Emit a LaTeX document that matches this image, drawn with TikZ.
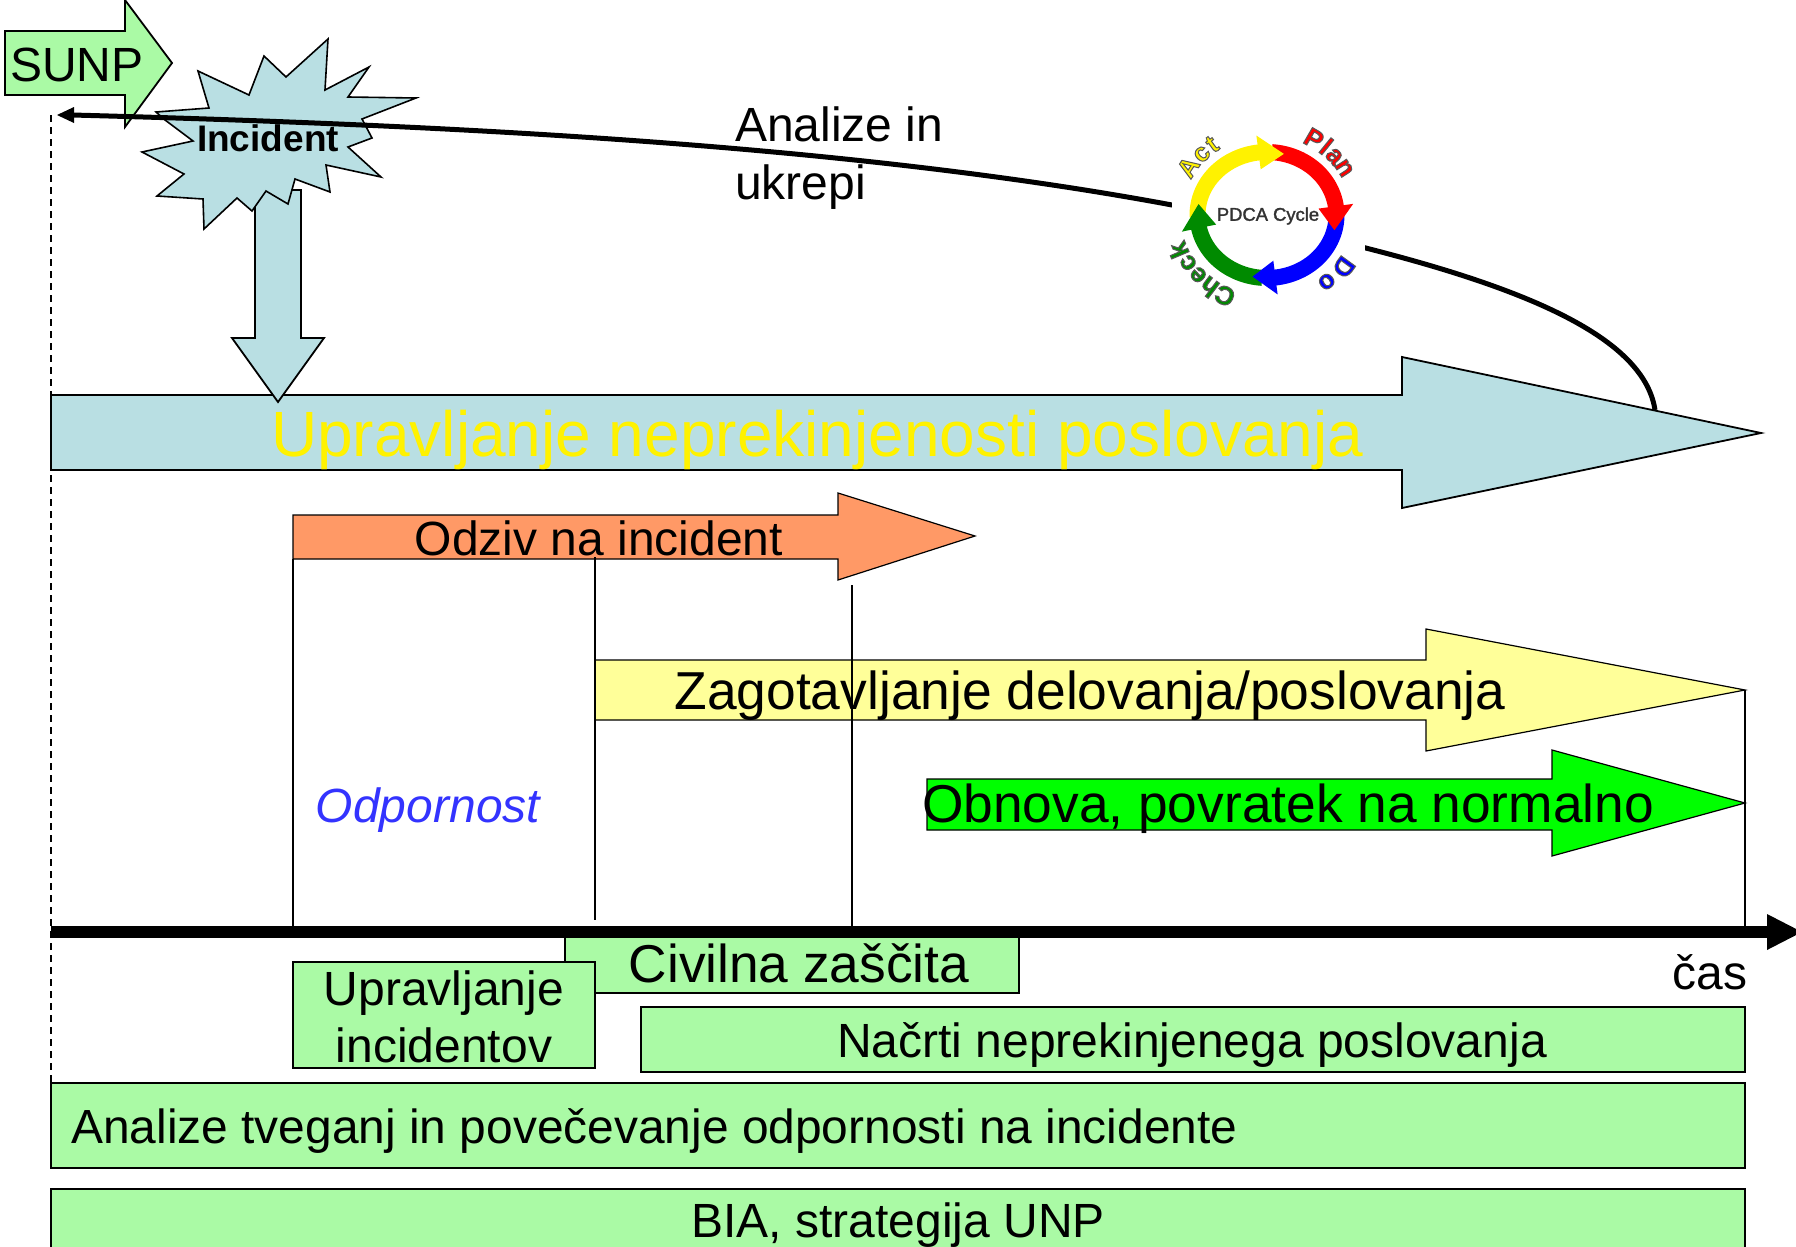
\documentclass[tikz,border=0pt]{standalone}
\usepackage{fontspec}
\setmainfont{Liberation Sans}
\definecolor{bluefill}{HTML}{B9DFE3}
\definecolor{greenfill}{HTML}{AAFAA5}
\definecolor{orangefill}{HTML}{FF9966}
\definecolor{yellowfill}{HTML}{FFFF99}
\definecolor{pdcagreen}{HTML}{008A00}
\tikzset{
  x=1pt,y=-1pt,
  shapeline/.style={draw=black,line width=1.8pt,line join=miter},
  bluearrow/.style={shapeline,fill=bluefill},
  greenbox/.style={shapeline,fill=greenfill},
  tick/.style={draw=black,line width=1.5pt},
  label/.style={inner sep=0pt,text=black,align=center},
}
\newcommand\fsz[1]{\fontsize{#1}{#1}\selectfont}
\newcommand\pdcashaft[3]{\draw[#1,line width=16pt,domain=#2:#3,samples=30,smooth] plot ({1267+69.5*cos(\x)},{215-63*sin(\x)});}
\newcommand\pdcahead[3]{\fill[#1] ({1267+87*cos(#2)},{215-80*sin(#2)}) -- ({1267+69.5*cos(#3)},{215-63*sin(#3)}) -- ({1267+52*cos(#2)},{215-46*sin(#2)}) -- cycle;}
\newcommand\pdcaword[1]{\special{pdf:code q 2 Tr 1 w 0.35 0.35 0.35 RG}#1\special{pdf:code Q}}
\newcommand\pdcaletter[5]{%
  \node[inner sep=0pt,anchor=base,text=#3,rotate=#2-90,font=\bfseries\fsz{26}] (letter#5) at ({1267+#4*cos(#2)},{215-#4*0.93*sin(#2)}) {\pdcaword{#1}};}
\begin{document}
\begin{tikzpicture}
\useasboundingbox (0,0) rectangle (1796,1247);
\clip (0,0) rectangle (1796,1247);
% left dashed time origin
\coordinate (dashtop) at (51,115);
\coordinate (dashbot) at (51,1083);
\draw[black,line width=1.5pt,dash pattern=on 7pt off 5pt] (dashtop) -- (dashbot);
% SUNP
\draw[shapeline,fill=greenfill] (5,31) -- (125,31) -- (125,0) -- (172,63) -- (125,127) -- (125,95) -- (5,95) -- cycle;
\node[label,font=\fsz{48}] (sunp) at (77,65) {SUNP};
% Big arrow
\draw[bluearrow] (51,395) -- (1402,395) -- (1402,357) -- (1761,433) -- (1402,508) -- (1402,470) -- (51,470) -- cycle;
% Down arrow
\draw[bluearrow] (255,190) -- (301,190) -- (301,338) -- (324,338) -- (278,402) -- (232,338) -- (255,338) -- cycle;
\node[label,anchor=west,text=yellow,font=\fsz{64}] (ubp) at (271,440) {Upravljanje neprekinjenosti poslovanja};
% Burst
\draw[bluearrow,line width=1.6pt] (198,71) -- (249,95) -- (264,56) -- (286,77) -- (328,39) -- (325,90) -- (369,67) -- (348,97) -- (416,98) -- (362,119) -- (372,138) -- (348,147) -- (381,177) -- (326,165) -- (330,192) -- (295,179) -- (288,204) -- (266,191) -- (252,211) -- (237,198) -- (204,229) -- (203,199) -- (157,196) -- (184,174) -- (142,152) -- (193,141) -- (165,120) -- (156,112) -- (209,108) -- cycle;
\node[label,font=\bfseries\fsz{37}] (incident) at (268,138) {Incident};
% feedback curve
\coordinate (curveend) at (57,115);
\coordinate (curvestart) at (1655,410);
\draw[black,line width=5pt] (curvestart) .. controls (1640,310) and (1420,255) .. (1172,205) .. controls (850,145) and (450,125) .. (72,115);
\fill[black] (curveend) -- (74,107) -- (74,123) -- cycle;
\node[label,anchor=west,align=left,font=\fsz{48}] (analize) at (735,158) {Analize in\\[10pt]ukrepi};
% PDCA image
\fill[white] (1172,130) rectangle (1365,312);
\pdcashaft{yellow}{182}{96}
\pdcashaft{red}{86}{7}
\pdcashaft{blue}{3}{-84}
\pdcashaft{pdcagreen}{-94}{-170}
\pdcahead{yellow}{97}{76}
\pdcahead{red}{8}{-14}
\pdcahead{blue}{-83}{-102}
\pdcahead{pdcagreen}{-168}{-190}
\node[label,text=black!80,font=\fsz{18.4}] (pdca) at (1268,216) {\special{pdf:code q 2 Tr 0.3 w 0.2 0.2 0.2 RG}PDCA Cycle\special{pdf:code Q}};
\pdcaletter{P}{60}{red}{85}{pp}
\pdcaletter{l}{51}{red}{85}{pl}
\pdcaletter{a}{43}{red}{85}{pa}
\pdcaletter{n}{33}{red}{85}{pn}
\pdcaletter{A}{147}{yellow}{85}{aa}
\pdcaletter{c}{135}{yellow}{85}{ac}
\pdcaletter{t}{126}{yellow}{85}{at}
\pdcaletter{D}{-36}{blue}{86}{dd}
\pdcaletter{o}{-50}{blue}{86}{do}
\pdcaletter{C}{-116}{pdcagreen}{87}{cc}
\pdcaletter{h}{-127}{pdcagreen}{87}{ch}
\pdcaletter{e}{-137}{pdcagreen}{87}{ce}
\pdcaletter{c}{-147}{pdcagreen}{87}{cx}
\pdcaletter{k}{-157}{pdcagreen}{87}{ck}
% Orange
\draw[shapeline,fill=orangefill,line width=1.2pt] (293,515) -- (838,515) -- (838,493) -- (975,536) -- (838,580) -- (838,559) -- (293,559) -- cycle;
\node[label,font=\fsz{48}] (odziv) at (599,538) {Odziv na incident};
% Yellow
\draw[shapeline,fill=yellowfill,line width=1.2pt] (595,660) -- (1426,660) -- (1426,629) -- (1745,690) -- (1426,751) -- (1426,720) -- (595,720) -- cycle;
\node[label,font=\fsz{53.4}] (zag) at (1090,696) {Zagotavljanje delovanja/poslovanja};
% Bright green
\draw[shapeline,fill=green,line width=1.2pt] (927,779) -- (1552,779) -- (1552,750) -- (1745,803) -- (1552,856) -- (1552,830) -- (927,830) -- cycle;
\node[label,font=\fsz{53.3}] (obn) at (1288,809) {Obnova, povratek na normalno};
\node[label,text={rgb,255:red,51;green,51;blue,255},font=\itshape\fsz{48}] (odp) at (428,810) {Odpornost};
% Verticals
\coordinate (a1) at (293,559); \coordinate (a1b) at (293,931);
\coordinate (a2) at (595,557); \coordinate (a2b) at (595,920);
\coordinate (a3) at (852,585); \coordinate (a3b) at (852,931);
\coordinate (a4) at (1745,690); \coordinate (a4b) at (1745,931);
\draw[tick] (a1) -- (a1b);
\draw[tick] (a2) -- (a2b);
\draw[tick] (a3) -- (a3b);
\draw[tick] (a4) -- (a4b);
% boxes
\draw[greenbox] (565,931) rectangle (1019,993);
\node[label,font=\fsz{53.3}] (civ) at (799,963) {Civilna zaščita};
\draw[greenbox] (293,962) rectangle (595,1068);
\node[label,font=\fsz{48},align=center] (upr) at (444,1017) {Upravljanje\\[9pt]incidentov};
\draw[greenbox] (641,1007) rectangle (1745,1072);
\node[label,font=\fsz{48}] (nac) at (1192,1045) {Načrti neprekinjenega poslovanja};
\draw[greenbox] (51,1083) rectangle (1745,1168);
\node[label,anchor=west,font=\fsz{47.9}] (anl) at (71,1131) {Analize tveganj in povečevanje odpornosti na incidente};
\draw[greenbox] (51,1189) rectangle (1745,1270);
\node[label,font=\fsz{48}] (bia) at (898,1225) {BIA, strategija UNP};
% axis
\coordinate (axisl) at (51,932);
\coordinate (axisr) at (1768,932);
\draw[black,line width=12pt] (axisl) -- (axisr);
\fill[black] (1767,914) -- (1802,932) -- (1767,950) -- cycle;
\node[label,font=\fsz{48}] (cas) at (1710,972) {čas};
\end{tikzpicture}
\end{document}
